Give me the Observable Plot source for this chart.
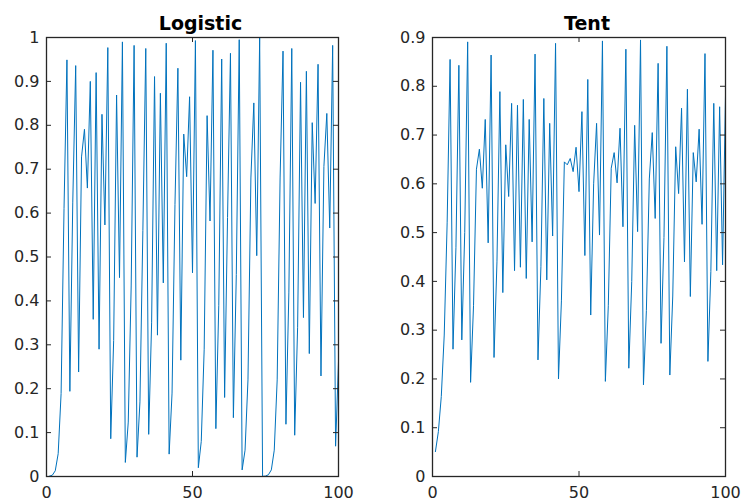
<!DOCTYPE html>
<html>
<head>
<meta charset="utf-8">
<script src="https://cdn.jsdelivr.net/npm/d3@7"></script>
<script src="https://cdn.jsdelivr.net/npm/@observablehq/plot@0.6"></script>
<style>
  html, body { margin: 0; padding: 0; background: #fff; }
  #wrap { display: flex; width: 745px; height: 502px; overflow: hidden; }
  svg { display: block; }
</style>
</head>
<body>
<div id="wrap"></div>
<script>
// ---- Data ----
const logisticTitle = "Logistic";
const tentTitle = "Tent";

const logisticValues = [
  0.0008, 0.003, 0.013, 0.052, 0.189, 0.61, 0.949, 0.194, 0.625, 0.936,
  0.238, 0.728, 0.791, 0.657, 0.900, 0.358, 0.920, 0.290, 0.825, 0.573,
  0.977, 0.086, 0.31, 0.869, 0.453, 0.990, 0.032, 0.124, 0.434, 0.982,
  0.044, 0.17, 0.56, 0.975, 0.096, 0.35, 0.911, 0.322, 0.873, 0.441,
  0.987, 0.051, 0.19, 0.62, 0.93, 0.265, 0.78, 0.683, 0.865, 0.464,
  0.993, 0.020, 0.08, 0.29, 0.822, 0.582, 0.971, 0.109, 0.39, 0.951,
  0.180, 0.59, 0.964, 0.134, 0.46, 0.995, 0.015, 0.06, 0.22, 0.68,
  0.851, 0.503, 1.0, 0.0002, 0.001, 0.004, 0.015, 0.06, 0.22, 0.68,
  0.969, 0.119, 0.42, 0.975, 0.094, 0.34, 0.898, 0.362, 0.923, 0.280,
  0.806, 0.622, 0.939, 0.229, 0.706, 0.827, 0.566, 0.982, 0.069, 0.261
];

const tentValues = [
  0.051, 0.092, 0.164, 0.29, 0.52, 0.855, 0.261, 0.47, 0.843, 0.28,
  0.50, 0.891, 0.193, 0.35, 0.63, 0.671, 0.591, 0.732, 0.479, 0.864,
  0.244, 0.44, 0.789, 0.377, 0.68, 0.574, 0.765, 0.422, 0.761, 0.429,
  0.773, 0.406, 0.732, 0.481, 0.866, 0.239, 0.43, 0.775, 0.403, 0.724,
  0.493, 0.888, 0.200, 0.36, 0.645, 0.639, 0.652, 0.625, 0.675, 0.584,
  0.748, 0.453, 0.814, 0.331, 0.60, 0.724, 0.495, 0.893, 0.195, 0.35,
  0.632, 0.664, 0.602, 0.714, 0.512, 0.876, 0.222, 0.40, 0.72, 0.502,
  0.895, 0.188, 0.34, 0.61, 0.705, 0.529, 0.847, 0.273, 0.49, 0.882,
  0.208, 0.37, 0.676, 0.58, 0.755, 0.44, 0.794, 0.369, 0.664, 0.604,
  0.712, 0.517, 0.867, 0.236, 0.42, 0.765, 0.422, 0.758, 0.434, 0.78
];

const xTicks = [0, 50, 100];
const logisticYTicks = [0, 0.1, 0.2, 0.3, 0.4, 0.5, 0.6, 0.7, 0.8, 0.9, 1];
const tentYTicks = [0, 0.1, 0.2, 0.3, 0.4, 0.5, 0.6, 0.7, 0.8, 0.9];

// ---- Styling ----
const FONT = "'DejaVu Sans', 'Liberation Sans', Arial, sans-serif";
const AXIS = "#262626";
const LINE = "#0072BD";
const TICK_LEN = 5;

function panel({values, yTicks, yMax, title, width, marginLeft, marginRight}) {
  const data = values.map((v, i) => ({x: i + 1, y: v}));
  const plotW = width - marginLeft - marginRight;
  const marginTop = 37, marginBottom = 26, height = 502;
  const plotH = height - marginTop - marginBottom;
  return Plot.plot({
    width, height, marginLeft, marginRight, marginTop, marginBottom,
    style: {fontFamily: FONT, fontSize: "16px", color: AXIS, background: "#fff", overflow: "visible"},
    x: {domain: [0, 100]},
    y: {domain: [0, yMax]},
    marks: [
      Plot.line(data, {x: "x", y: "y", stroke: LINE, strokeWidth: 1}),
      // inward ticks: left & right
      Plot.tickY(yTicks, {y: d => d, stroke: AXIS, insetRight: plotW - TICK_LEN}),
      Plot.tickY(yTicks, {y: d => d, stroke: AXIS, insetLeft: plotW - TICK_LEN}),
      // inward ticks: bottom & top
      Plot.tickX(xTicks, {x: d => d, stroke: AXIS, insetTop: plotH - TICK_LEN}),
      Plot.tickX(xTicks, {x: d => d, stroke: AXIS, insetBottom: plotH - TICK_LEN}),
      Plot.frame({stroke: AXIS, strokeWidth: 1.3}),
      Plot.axisY(yTicks, {tickSize: 0, tickPadding: 7, label: null, fill: AXIS, fontSize: 16,
        tickFormat: d => String(d)}),
      Plot.axisX(xTicks, {tickSize: 0, tickPadding: 10, label: null, fill: AXIS, fontSize: 16,
        tickFormat: d => String(d)}),
      Plot.text([title], {frameAnchor: "top", text: d => d, dx: 8, dy: -8, lineAnchor: "bottom",
        fontWeight: "bold", fontSize: 19, fill: "#000"})
    ]
  });
}

const wrap = document.getElementById("wrap");
wrap.appendChild(panel({values: logisticValues, yTicks: logisticYTicks, yMax: 1, title: logisticTitle,
  width: 372, marginLeft: 46, marginRight: 34}));
wrap.appendChild(panel({values: tentValues, yTicks: tentYTicks, yMax: 0.9, title: tentTitle,
  width: 373, marginLeft: 60, marginRight: 20}));
</script>
</body>
</html>
